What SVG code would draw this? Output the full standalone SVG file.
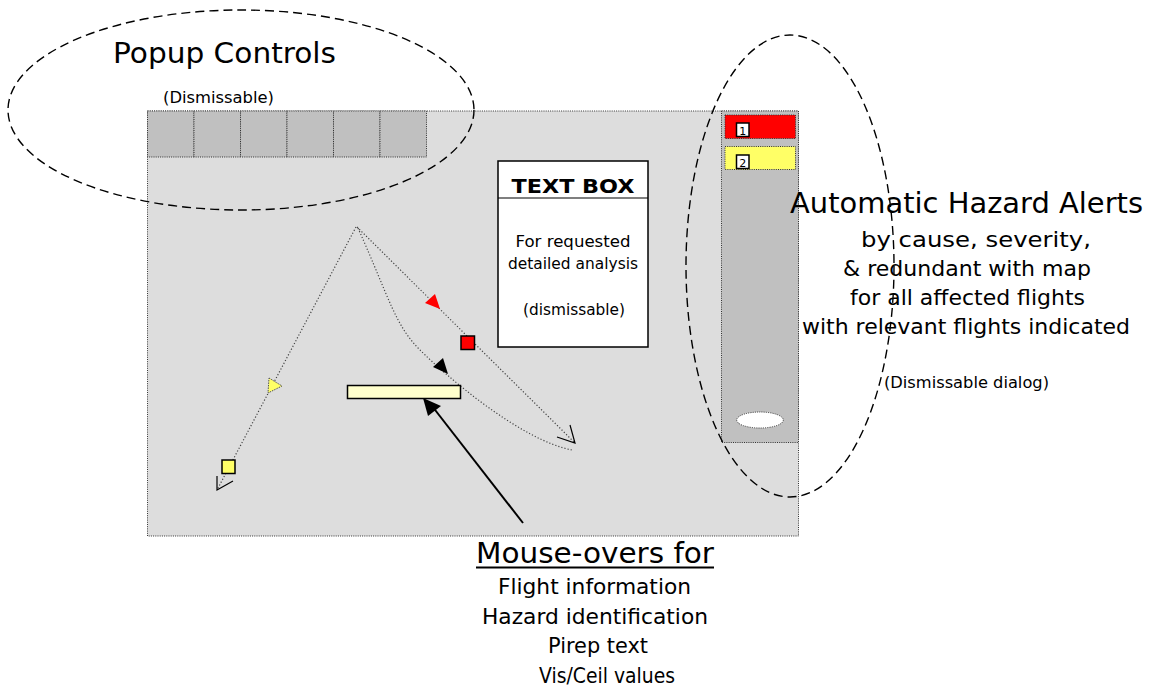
<svg xmlns="http://www.w3.org/2000/svg" width="1151" height="691" viewBox="0 0 1151 691">
<style>
text{font-family:"DejaVu Sans","Liberation Sans",sans-serif;fill:#000}
.dot{stroke:#333;stroke-width:1;stroke-dasharray:1,1.2}
.thin{fill:none;stroke:#444;stroke-width:1.2;stroke-dasharray:1.2,2}
.dash{fill:none;stroke:#000;stroke-width:1.4;stroke-dasharray:9,5}
.big{font-size:29px}
.mid{font-size:21px}
.sm{font-size:15px}
</style>
<rect width="1151" height="691" fill="#fff"/>
<g id="map">
<rect x="147.5" y="111" width="651" height="425" fill="#dddddd" class="dot"/>
</g>
<g id="controls">
<rect x="147.5" y="111" width="46.5" height="46" fill="#c0c0c0" class="dot"/>
<rect x="194" y="111" width="46.5" height="46" fill="#c0c0c0" class="dot"/>
<rect x="240.5" y="111" width="46.5" height="46" fill="#c0c0c0" class="dot"/>
<rect x="287" y="111" width="46.5" height="46" fill="#c0c0c0" class="dot"/>
<rect x="333.5" y="111" width="46.5" height="46" fill="#c0c0c0" class="dot"/>
<rect x="380" y="111" width="46.5" height="46" fill="#c0c0c0" class="dot"/>
</g>
<g id="alert-panel">
<rect x="721.5" y="111" width="77" height="331.5" fill="#c0c0c0" class="dot"/>
<rect x="725" y="115" width="70.5" height="23.5" fill="#ff0000" class="dot"/>
<rect x="725" y="146.5" width="70.5" height="23" fill="#ffff66" class="dot"/>
<rect x="736.5" y="123" width="12.5" height="13.5" fill="#fff" stroke="#000" stroke-width="1.5"/>
<text x="742.8" y="134.5" font-size="11" text-anchor="middle">1</text>
<rect x="736.5" y="155" width="12.5" height="13.5" fill="#fff" stroke="#000" stroke-width="1.5"/>
<text x="742.8" y="166.5" font-size="11" text-anchor="middle">2</text>
<ellipse cx="760" cy="420" rx="23.3" ry="8" fill="#fff" class="dot"/>
</g>
<g id="text-box">
<rect x="498" y="161" width="150" height="186" fill="#fff" stroke="#000" stroke-width="1.5"/>
<line x1="498" y1="198" x2="648" y2="198" stroke="#000" stroke-width="1.2"/>
<text x="573" y="193" font-size="20" font-weight="bold" text-anchor="middle" textLength="123" lengthAdjust="spacingAndGlyphs">TEXT BOX</text>
<text x="573" y="247" font-size="15" text-anchor="middle" textLength="115" lengthAdjust="spacingAndGlyphs">For requested</text>
<text x="573" y="269" font-size="15" text-anchor="middle" textLength="130" lengthAdjust="spacingAndGlyphs">detailed analysis</text>
<text x="574" y="315" font-size="15" text-anchor="middle" textLength="102" lengthAdjust="spacingAndGlyphs">(dismissable)</text>
</g>
<g id="connectors">
<path d="M356,227 L217,490" class="thin"/>
<path d="M357,227 L575,443" class="thin"/>
<path d="M358,228 C390,300 395,325 420,350 S520,440 572,450" class="thin"/>
<polyline points="217,476 217,490 233,481" fill="none" stroke="#000" stroke-width="1.2"/>
<polyline points="557,437 575,443 570,425" fill="none" stroke="#000" stroke-width="1.2"/>
<line x1="523" y1="523" x2="432" y2="406" stroke="#000" stroke-width="2"/>
<polygon points="423,398 428,416 441,406" fill="#000"/>
</g>
<g id="flight-markers">
<rect x="222" y="460" width="13" height="13.5" fill="#ffff66" stroke="#000" stroke-width="1.5"/>
<polygon points="269,378 282,386 268,393" style="fill:#ffff66;stroke:#555;stroke-width:1;stroke-dasharray:1.5,1"/>
<rect x="461" y="336" width="13.5" height="13.5" fill="#ff0000" stroke="#000" stroke-width="1.5"/>
<polygon points="425,303 435,294 440,309" fill="#ff0000"/>
<polygon points="433,367 443,358 448,374" fill="#000"/>
<rect x="347.5" y="385.5" width="113" height="13" fill="#ffffcc" stroke="#000" stroke-width="1.5"/>
</g>
<g id="popup-label">
<ellipse cx="241" cy="110" rx="233" ry="100" class="dash"/>
<text x="224.5" y="63" class="big" text-anchor="middle" textLength="223" lengthAdjust="spacingAndGlyphs">Popup Controls</text>
<text x="218.5" y="103" class="sm" text-anchor="middle" textLength="111" lengthAdjust="spacingAndGlyphs">(Dismissable)</text>
</g>
<g id="alerts-label">
<ellipse cx="790" cy="266" rx="104" ry="231" class="dash"/>
<text x="966.5" y="213" class="big" text-anchor="middle" textLength="353" lengthAdjust="spacingAndGlyphs">Automatic Hazard Alerts</text>
<text x="976" y="247" class="mid" text-anchor="middle" textLength="230" lengthAdjust="spacingAndGlyphs">by cause, severity,</text>
<text x="967" y="276" class="mid" text-anchor="middle" textLength="248" lengthAdjust="spacingAndGlyphs">&amp; redundant with map</text>
<text x="967.5" y="305" class="mid" text-anchor="middle" textLength="235" lengthAdjust="spacingAndGlyphs">for all affected flights</text>
<text x="966" y="334" class="mid" text-anchor="middle" textLength="328" lengthAdjust="spacingAndGlyphs">with relevant flights indicated</text>
<text x="966.5" y="388" class="sm" text-anchor="middle" textLength="165" lengthAdjust="spacingAndGlyphs">(Dismissable dialog)</text>
</g>
<g id="mouseover-label">
<text x="595" y="563" class="big" text-anchor="middle" textLength="238" lengthAdjust="spacingAndGlyphs">Mouse-overs for</text>
<line x1="476" y1="567.5" x2="714" y2="567.5" stroke="#000" stroke-width="2"/>
<text x="594.5" y="594" class="mid" text-anchor="middle" textLength="193" lengthAdjust="spacingAndGlyphs">Flight information</text>
<text x="595" y="624" class="mid" text-anchor="middle" textLength="226" lengthAdjust="spacingAndGlyphs">Hazard identification</text>
<text x="598" y="653" class="mid" text-anchor="middle" textLength="100" lengthAdjust="spacingAndGlyphs">Pirep text</text>
<text x="607" y="683" class="mid" text-anchor="middle" textLength="136" lengthAdjust="spacingAndGlyphs">Vis/Ceil values</text>
</g>
</svg>
